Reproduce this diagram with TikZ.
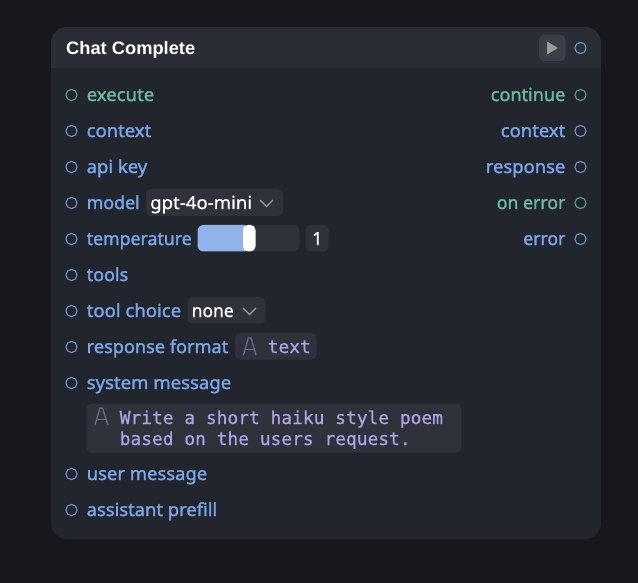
\documentclass[tikz,border=0pt]{standalone}
\usepackage{fontspec}
\usepackage{graphicx}
\setmainfont{Noto Sans}
\newfontfamily\uifont{Noto Sans}[FakeBold=1.6]
\newfontfamily\plainui{Noto Sans}[FakeBold=0.8]
\newfontfamily\titlefont{Liberation Sans}
\newfontfamily\codefont{DejaVu Sans Mono}[FakeBold=0.6]
\newcommand{\fitw}[2]{\resizebox{#1pt}{\height}{#2}}
\definecolor{bgdark}{HTML}{16181D}
\definecolor{nodebody}{HTML}{22252D}
\definecolor{nodehead}{HTML}{2A2D35}
\definecolor{field}{HTML}{2F323A}
\definecolor{playbg}{HTML}{3C3E45}
\definecolor{playfg}{HTML}{999A9E}
\definecolor{bluetxt}{HTML}{7AA5E8}
\definecolor{greentxt}{HTML}{6DB9A0}
\definecolor{bluering}{HTML}{7196CF}
\definecolor{greenring}{HTML}{5F9F88}
\definecolor{slider}{HTML}{8FB3EA}
\definecolor{codetxt}{HTML}{ACA2EA}
\definecolor{iconc}{HTML}{716D98}
\definecolor{chev}{HTML}{9A9CA3}
\tikzset{
  x=1pt,y=-1pt,
  port/.style={circle,draw=bluering,line width=1.1pt,inner sep=0pt,minimum size=11.2pt},
  gport/.style={port,draw=greenring},
  lbl/.style={anchor=base west,inner sep=0pt,text=bluetxt,font=\uifont\fontsize{18}{18}\selectfont},
  glbl/.style={lbl,text=greentxt},
  rlbl/.style={lbl,anchor=base east},
  rglbl/.style={rlbl,text=greentxt},
  val/.style={anchor=base west,inner sep=0pt,text=white,font=\plainui\fontsize{18}{18}\selectfont},
  code/.style={anchor=base west,inner sep=0pt,text=codetxt,font=\codefont\fontsize{17.9}{18}\selectfont},
  chevron/.style={draw=chev,line width=1.1pt},
  aicon/.style={draw=iconc,line width=1.2pt,line join=round}
}
\begin{document}
\begin{tikzpicture}
\useasboundingbox (0,0) rectangle (638,583);
\fill[bgdark] (0,0) rectangle (638,583);
% node
\fill[nodebody,rounded corners=16pt] (51,27) rectangle (601,539);
\begin{scope}
\clip[rounded corners=16pt] (51,27) rectangle (601,539);
\fill[nodehead] (51,27) rectangle (601,68);
\end{scope}
\node[anchor=base west,inner sep=0pt,text=white,font=\titlefont\bfseries\fontsize{18}{18}\selectfont] (title) at (66,54.5) {\fitw{129}{Chat Complete}};
\fill[playbg,rounded corners=5pt] (539,35) rectangle (565.5,61);
\fill[playfg,rounded corners=.6pt] (547,41.5) -- (558,48) -- (547,54.5) -- cycle;
\node[port] (pout) at (580.5,48) {};
% left ports
\node[gport] (p1) at (71.5,95) {};
\node[port] (p2) at (71.5,131) {};
\node[port] (p3) at (71.5,167) {};
\node[port] (p4) at (71.5,203) {};
\node[port] (p5) at (71.5,239) {};
\node[port] (p6) at (71.5,275) {};
\node[port] (p7) at (71.5,311) {};
\node[port] (p8) at (71.5,347) {};
\node[port] (p9) at (71.5,383) {};
\node[port] (p10) at (71.5,474) {};
\node[port] (p11) at (71.5,510) {};
\node[glbl] (l1) at (86.5,101) {\fitw{67.5}{execute}};
\node[lbl] (l2) at (86.5,137) {\fitw{64.5}{context}};
\node[lbl] (l3) at (86.5,173) {\fitw{60.5}{api key}};
\node[lbl] (l4) at (86.5,209) {\fitw{53}{model}};
\node[lbl] (l5) at (86.5,245) {\fitw{105}{temperature}};
\node[lbl] (l6) at (86.5,281) {\fitw{41.5}{tools}};
\node[lbl] (l7) at (86.5,317) {\fitw{94.5}{tool choice}};
\node[lbl] (l8) at (86.5,353) {\fitw{141.5}{response format}};
\node[lbl] (l9) at (86.5,389) {\fitw{144.5}{system message}};
\node[lbl] (l10) at (86.5,480) {\fitw{120.5}{user message}};
\node[lbl] (l11) at (86.5,516) {\fitw{130.5}{assistant prefill}};
% right ports
\node[gport] (r1) at (580.5,95) {};
\node[port] (r2) at (580.5,131) {};
\node[port] (r3) at (580.5,167) {};
\node[gport] (r4) at (580.5,203) {};
\node[port] (r5) at (580.5,239) {};
\node[rglbl] (rl1) at (565.5,101) {\fitw{74.5}{continue}};
\node[rlbl] (rl2) at (565.5,137) {\fitw{64.5}{context}};
\node[rlbl] (rl3) at (565.5,173) {\fitw{79.5}{response}};
\node[rglbl] (rl4) at (565.5,209) {\fitw{68.5}{on error}};
\node[rlbl] (rl5) at (565.5,245) {\fitw{42}{error}};
% model
\fill[field,rounded corners=5pt] (146,189) rectangle (283,216);
\node[val] (model) at (150,209) {\fitw{102}{gpt-4o-mini}};
\draw[chevron] (260,200) -- (266.5,206.5) -- (273,200);
% temperature
\fill[field,rounded corners=6pt] (197.5,225) rectangle (299.5,251.5);
\fill[slider,rounded corners=6pt] (197.5,225) rectangle (250,251.5);
\fill[white,rounded corners=5pt] (243,225) rectangle (255.5,251.5);
\fill[field,rounded corners=5pt] (305.5,225) rectangle (328.5,251.5);
\node[val] (tempv) at (312,245) {1};
% tool choice
\fill[field,rounded corners=5pt] (187.5,297) rectangle (265.5,323.5);
\node[val] (choice) at (191.5,317) {\fitw{42}{none}};
\draw[chevron] (243,308) -- (249.5,314.5) -- (256,308);
% response format
\fill[field,rounded corners=5pt] (235,333) rectangle (316.5,359.5);
\draw[aicon] (243.5,355) -- (248.3,338) -- (251,338) -- (256,355);
\draw[aicon] (244.8,349.5) -- (254.8,349.5);
\node[code] (fmt) at (267.5,353) {text};
% system message
\fill[field,rounded corners=5pt] (86.5,403.5) rectangle (461.5,452.5);
\draw[aicon] (95,425) -- (99.8,408) -- (102.5,408) -- (108,425);
\draw[aicon] (96.3,419.5) -- (106.8,419.5);
\node[code] (sys1) at (119.5,424) {Write a short haiku style poem};
\node[code] (sys2) at (119.5,445) {based on the users request.};
\end{tikzpicture}
\end{document}
